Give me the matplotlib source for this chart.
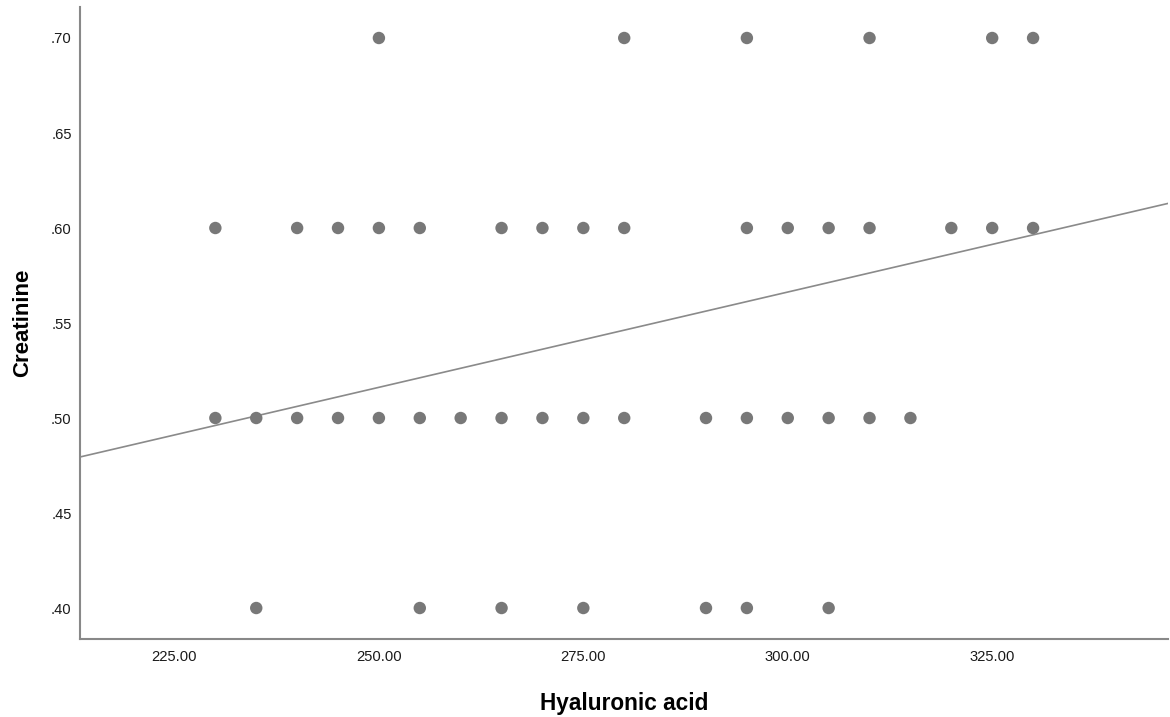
import numpy as np
import matplotlib
matplotlib.use("Agg")
import matplotlib.pyplot as plt

plt.rcParams["font.family"] = ["Liberation Sans", "DejaVu Sans"]

# Creatinine rows and the hyaluronic acid values seen on each row
creat_70 = [250, 280, 295, 310, 325, 330]
creat_60 = [230, 240, 245, 250, 255, 265, 270, 275, 280,
            295, 300, 305, 310, 320, 325, 330]
creat_50 = [230, 235, 240, 245, 250, 255, 260, 265, 270, 275, 280,
            290, 295, 300, 305, 310, 315]
creat_40 = [235, 255, 265, 275, 290, 295, 305]

hyaluronic = np.array(creat_70 + creat_60 + creat_50 + creat_40, dtype=float)
creatinine = np.array([0.70] * len(creat_70) + [0.60] * len(creat_60)
                      + [0.50] * len(creat_50) + [0.40] * len(creat_40))

# fit line
fit_intercept = 0.2654
fit_slope = 0.001003

x_ticks = [225, 250, 275, 300, 325]
y_ticks = [0.40, 0.45, 0.50, 0.55, 0.60, 0.65, 0.70]

fig = plt.figure(figsize=(11.7, 7.17), dpi=100)
ax = fig.add_axes([0.0684, 0.1088, 0.9299, 0.8814])

xlim = (213.45, 346.5)
ax.set_xlim(*xlim)
ax.set_ylim(0.3837, 0.7163)

xs = np.array(xlim)
ax.plot(xs, fit_intercept + fit_slope * xs, color="#8a8a8a", lw=1.2, zorder=2)
ax.scatter(hyaluronic, creatinine, s=80, color="#787878", edgecolors="none", zorder=3)

ax.set_xticks(x_ticks)
ax.set_xticklabels([f"{v:.2f}" for v in x_ticks])
ax.set_yticks(y_ticks)
ax.set_yticklabels([f"{v:.2f}"[1:] for v in y_ticks])
ax.tick_params(length=0, labelsize=10.6, colors="#1a1a1a")
ax.tick_params(axis="x", pad=8)
ax.tick_params(axis="y", pad=6)

for side in ["top", "right"]:
    ax.spines[side].set_visible(False)
for side in ["left", "bottom"]:
    ax.spines[side].set_color("#888888")
    ax.spines[side].set_linewidth(1.5)

ax.set_xlabel("Hyaluronic acid", fontsize=16.3, fontweight="bold", labelpad=20)
ax.set_ylabel("Creatinine", fontsize=16, fontweight="bold", labelpad=13)

fig.savefig("out.png", dpi=100)
plt.close(fig)
